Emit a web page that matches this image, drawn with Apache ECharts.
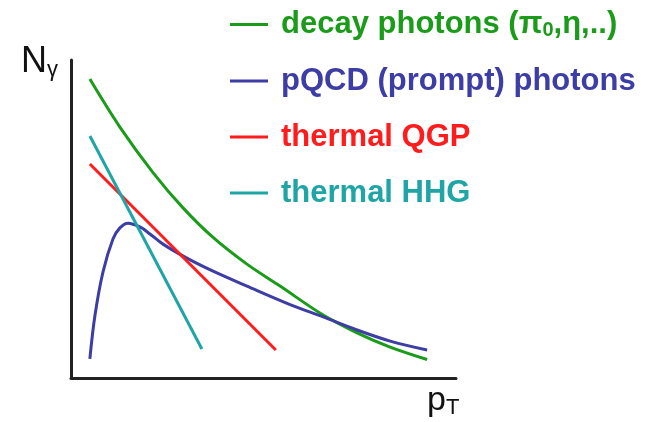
<!DOCTYPE html>
<html><head><meta charset="utf-8">
<script src="https://cdn.jsdelivr.net/npm/echarts@6/dist/echarts.min.js"></script>
<style>html,body{margin:0;padding:0;background:#fff}#c{width:656px;height:422px}</style>
</head><body><div id="c"></div>
<script>
const seriesNames = ['decay photons (π0,η,..)', 'pQCD (prompt) photons', 'thermal QGP', 'thermal HHG'];
const decay = [[4.9,94.0],[12.7,78.9],[21.3,64.6],[29.1,53.5],[36.9,44.2],[45.7,35.8],[54.3,28.9],[65.5,19.8],[74.3,14.2],[82.9,9.7],[92.5,5.8]];
const pqcd = [[4.9,6.0],[6.2,19.5],[8.3,33.3],[10.9,43.7],[12.7,47.2],[14.8,48.7],[17.9,47.5],[20.5,45.3],[23.9,42.1],[30.1,37.7],[36.9,33.6],[45.7,28.9],[56.9,23.1],[65.5,19.2],[74.3,15.1],[82.9,11.6],[92.5,8.8]];
const qgp = [[4.9,67.3],[53.2,8.8]];
const hhg = [[4.9,76.1],[34.0,9.1]];
const colors = ['#1a9c1a', '#3d3da6', '#ff1c1c', '#1fa5a5'];

const chart = echarts.init(document.getElementById('c'));
const mk = (i, data, smooth) => ({
  name: seriesNames[i], type: 'line', data, smooth, showSymbol: false, symbol: 'none',
  lineStyle: {width: 3, color: colors[i]}, itemStyle: {color: colors[i]}, animation: false
});
chart.setOption({
  animation: false,
  grid: {left: 71, top: 60, right: 200, bottom: 44},
  xAxis: {type: 'value', min: 0, max: 100, axisLine: {lineStyle: {color: '#222', width: 3}},
    axisTick: {show: false}, axisLabel: {show: false}, splitLine: {show: false}},
  yAxis: {type: 'value', min: 0, max: 100, axisLine: {show: true, lineStyle: {color: '#222', width: 3}},
    axisTick: {show: false}, axisLabel: {show: false}, splitLine: {show: false}},
  legend: {
    orient: 'vertical', left: 230, top: 9, padding: 0, icon: 'rect', itemWidth: 38, itemHeight: 3, itemGap: 25,
    data: seriesNames.map((n, i) => ({name: n, textStyle: {color: colors[i],
      rich: {a: {color: colors[i], fontSize: 31, fontWeight: 'bold', fontFamily: 'Liberation Sans'},
             s: {color: colors[i], fontSize: 20, fontWeight: 'bold', fontFamily: 'Liberation Sans', padding: [12, 0, 0, 0]}}}})),
    formatter: n => n === seriesNames[0] ? '{a|decay photons (π}{s|0}{a|,η,..)}' : '{a|' + n + '}',
    textStyle: {fontSize: 31, fontWeight: 'bold', fontFamily: 'Liberation Sans', lineHeight: 30, padding: [0, 0, 0, 8]}
  },
  graphic: [
    {type: 'text', left: 21, top: 44, style: {text: '{n|N}{g|γ}', rich: {
      n: {fontSize: 36, fontFamily: 'Liberation Sans', fill: '#111'},
      g: {fontSize: 22, fontFamily: 'Liberation Sans', fill: '#111', padding: [16, 0, 0, 0]}}}},
    {type: 'text', left: 427, top: 384, style: {text: '{n|p}{g|T}', rich: {
      n: {fontSize: 34, fontFamily: 'Liberation Sans', fill: '#111'},
      g: {fontSize: 22, fontFamily: 'Liberation Sans', fill: '#111', padding: [14, 0, 0, 0]}}}}
  ],
  series: [mk(0, decay, 0.35), mk(1, pqcd, 0.35), mk(2, qgp, false), mk(3, hhg, false)]
});
</script></body></html>
